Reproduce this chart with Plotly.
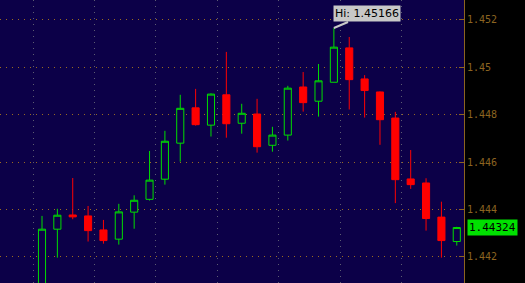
import plotly.graph_objects as go

# Data
bar_index = list(range(28))
opens = [1.4405, 1.44317, 1.44377, 1.44373, 1.44314, 1.44275, 1.44389, 1.44443, 1.44528, 1.4468,
         1.44829, 1.44756, 1.44884, 1.44764, 1.44803, 1.44671, 1.44714, 1.44917, 1.44857, 1.44937,
         1.45082, 1.44951, 1.44896, 1.44786, 1.44529, 1.44512, 1.44368, 1.44265]
highs = [1.44373, 1.44403, 1.44533, 1.44415, 1.44356, 1.44424, 1.4446, 1.44647, 1.44732, 1.44884,
         1.44909, 1.4489, 1.45065, 1.44846, 1.44867, 1.44749, 1.44922, 1.4498, 1.45014, 1.45166,
         1.45128, 1.44967, 1.44898, 1.44812, 1.44651, 1.44532, 1.44433, 1.44327]
lows = [1.4402, 1.44197, 1.44359, 1.44265, 1.44256, 1.44252, 1.44319, 1.44438, 1.44505, 1.44602,
        1.44754, 1.44708, 1.44703, 1.4472, 1.4464, 1.44644, 1.44691, 1.44813, 1.44792, 1.44937,
        1.44822, 1.44788, 1.44673, 1.44427, 1.44487, 1.44311, 1.44197, 1.44248]
closes = [1.44317, 1.44376, 1.44369, 1.44311, 1.44269, 1.4439, 1.44439, 1.44524, 1.44688, 1.44827,
          1.44758, 1.44887, 1.44762, 1.44806, 1.44665, 1.44714, 1.44912, 1.44851, 1.44943, 1.45085,
          1.44948, 1.44902, 1.44779, 1.44526, 1.44505, 1.44362, 1.44269, 1.44324]
y_tick_values = [1.442, 1.444, 1.446, 1.448, 1.45, 1.452]
y_tick_labels = ["1.442", "1.444", "1.446", "1.448", "1.45", "1.452"]

BG = "#0c0048"
AXIS = "#8c6420"
GREEN = "#00dd00"
RED = "#ff0000"

fig = go.Figure()
fig.add_trace(go.Candlestick(
    x=bar_index, open=opens, high=highs, low=lows, close=closes,
    increasing=dict(line=dict(color=GREEN, width=1), fillcolor=BG),
    decreasing=dict(line=dict(color=RED, width=1), fillcolor=RED),
    whiskerwidth=0, showlegend=False, hoverinfo="skip",
))

hi_val = max(highs)
hi_idx = highs.index(hi_val)
last_close = closes[-1]

fig.add_annotation(
    x=hi_idx, y=hi_val, xref="x", yref="y",
    text=f"Hi: {hi_val:.5f}", showarrow=True, arrowhead=0, arrowwidth=2,
    arrowcolor="#c8c8c8", ax=33, ay=-14, bgcolor="#c8c8c8",
    font=dict(family="DejaVu Sans", size=11, color="#000000"), borderpad=1,
)
fig.add_annotation(
    x=1, y=last_close, xref="paper", yref="y", xanchor="left", xshift=3,
    text=f"{last_close:.5f}", showarrow=False, bgcolor="#00e000",
    font=dict(family="DejaVu Sans Mono", size=11, color="#000000"), borderpad=1,
)

fig.update_layout(
    width=525, height=283,
    margin=dict(l=0, r=61, t=0, b=0),
    paper_bgcolor="#000000", plot_bgcolor=BG,
    boxgap=0.34,
    xaxis=dict(
        range=[-2.734, 27.47], rangeslider=dict(visible=False),
        showticklabels=False, ticks="", tickmode="linear", tick0=-0.58, dtick=4,
        showgrid=True, gridcolor="#5c5c72", gridwidth=1, griddash="1px,5px",
        zeroline=False, showline=False, fixedrange=True,
    ),
    yaxis=dict(
        side="right", range=[1.4409, 1.45284],
        tickmode="array", tickvals=y_tick_values, ticktext=y_tick_labels,
        ticks="inside", ticklen=5, tickcolor=AXIS, tickwidth=1,
        tickfont=dict(family="DejaVu Sans Mono", size=10, color=AXIS),
        showline=True, linecolor=AXIS, linewidth=1,
        showgrid=True, gridcolor="#9a6a20", gridwidth=1, griddash="1px,5px",
        zeroline=False,
    ),
)

fig.write_html("out.html")
